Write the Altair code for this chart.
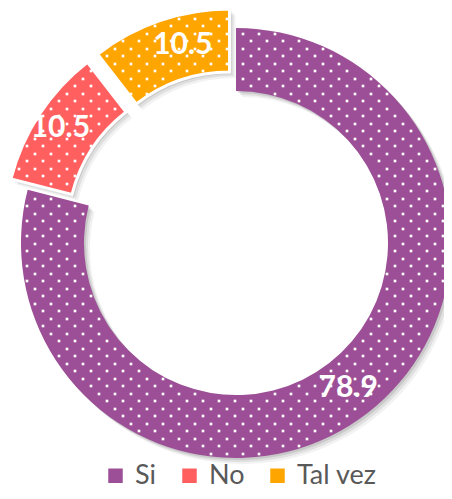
import math
import altair as alt
import pandas as pd

# ---- data ----
categories = ["Si", "No", "Tal vez"]
values = [78.9, 10.5, 10.5]
colors = ["#9C4F96", "#FF5F5F", "#FFA500"]

# ---- layout / style constants ----
W, H = 436, 483
CX, CY = 228, 235
R_IN, R_OUT = 152, 215
EXPLODE = 20

df = pd.DataFrame({"cat": categories, "value": values, "order": list(range(len(categories)))})

base = (
    alt.Chart(df)
    .transform_joinaggregate(total="sum(value)")
    .transform_window(cum="sum(value)", sort=[alt.SortField("order")], frame=[None, 0])
    .transform_calculate(
        start="(datum.cum - datum.value) / datum.total * 2 * PI",
        end="datum.cum / datum.total * 2 * PI",
    )
    .transform_calculate(
        mid="(datum.start + datum.end) / 2",
        d=f"datum.cat == 'Si' ? 0 : {EXPLODE}",
        la="datum.cat == 'Tal vez' ? 0.075 : 0",
        lr="datum.cat == 'No' ? 190 : (datum.cat == 'Tal vez' ? 185 : 183)",
    )
    .transform_calculate(
        cx=f"{CX} + datum.d * sin(datum.mid)",
        cy=f"{CY} - datum.d * cos(datum.mid)",
    )
    .transform_calculate(
        lx="datum.cx + datum.lr * sin(datum.mid + datum.la)",
        ly="datum.cy - datum.lr * cos(datum.mid + datum.la)",
    )
)

theta_enc = alt.Theta("start:Q", scale=None)
theta2_enc = alt.Theta2("end:Q")

# soft shadow layers
shadows = []
for off, op in [(2, 0.10), (4, 0.08), (6, 0.05)]:
    shadows.append(
        base.transform_calculate(sx=f"datum.cx + {off}", sy=f"datum.cy + {off}")
        .mark_arc(innerRadius=R_IN, outerRadius=R_OUT, color="black", opacity=op)
        .encode(theta=theta_enc, theta2=theta2_enc,
                x=alt.X("sx:Q", scale=None), y=alt.Y("sy:Q", scale=None))
    )

arcs = base.mark_arc(innerRadius=R_IN, outerRadius=R_OUT, stroke="white").encode(
    theta=theta_enc,
    theta2=theta2_enc,
    x=alt.X("cx:Q", scale=None),
    y=alt.Y("cy:Q", scale=None),
    color=alt.Color(
        "cat:N",
        scale=alt.Scale(domain=categories, range=colors),
        sort=categories,
        legend=alt.Legend(
            title=None,
            orient="none",
            direction="horizontal",
            legendX=94,
            legendY=454,
            symbolType="square",
            symbolSize=210,
            symbolStrokeWidth=0,
            labelFont="Lato",
            labelFontSize=27,
            labelColor="#595959",
            labelOffset=6,
            columnPadding=19,
        ),
    ),
    strokeWidth=alt.condition("datum.cat != 'Si'", alt.value(3), alt.value(0)),
)

# dotted texture (decorative), membership derived from the data angles
total = sum(values)
cum = 0.0
conds = []
for cat, v in zip(categories, values):
    a0 = cum / total * 2 * math.pi
    cum += v
    a1 = cum / total * 2 * math.pi
    mid = (a0 + a1) / 2
    d = 0 if cat == "Si" else EXPLODE
    cx = CX + d * math.sin(mid)
    cy = CY - d * math.cos(mid)
    dx = f"(datum.gx - {cx:.3f})"
    dy = f"(datum.gy - {cy:.3f})"
    r = f"sqrt({dx}*{dx} + {dy}*{dy})"
    ang = f"((atan2({dx}, -{dy}) + 2*PI) % (2*PI))"
    conds.append(
        f"({r} > {R_IN + 2} && {r} < {R_OUT - 2} && {ang} > {a0 + 0.012:.4f} && {ang} < {a1 - 0.012:.4f})"
    )
inside = " || ".join(conds)

DXG, DYG = 16, 7.5
NC = int(W // DXG) + 1
NR = int(H // DYG) + 1
dots = (
    alt.Chart(alt.sequence(0, NC * NR, as_="i"))
    .transform_calculate(row=f"floor(datum.i / {NC})", col=f"datum.i % {NC}")
    .transform_calculate(gx=f"datum.col * {DXG} + (datum.row % 2) * {DXG / 2} + 3",
                         gy=f"round(datum.row * {DYG}) + 3")
    .transform_filter(inside)
    .mark_square(size=7, color="white", opacity=1, strokeWidth=0)
    .encode(x=alt.X("gx:Q", scale=None), y=alt.Y("gy:Q", scale=None))
)

labels = base.mark_text(
    font="Lato", fontSize=30, fontWeight="bold", color="white", align="center", baseline="middle"
).encode(
    x=alt.X("lx:Q", scale=None),
    y=alt.Y("ly:Q", scale=None),
    text=alt.Text("value:Q", format=".1f"),
)

chart = (
    alt.layer(*shadows, arcs, dots, labels)
    .properties(width=W, height=H, autosize=alt.AutoSizeParams(type="none"), padding=0)
    .configure_view(stroke=None)
)

chart.save("out.html", embed_options={"renderer": "svg", "actions": False})
